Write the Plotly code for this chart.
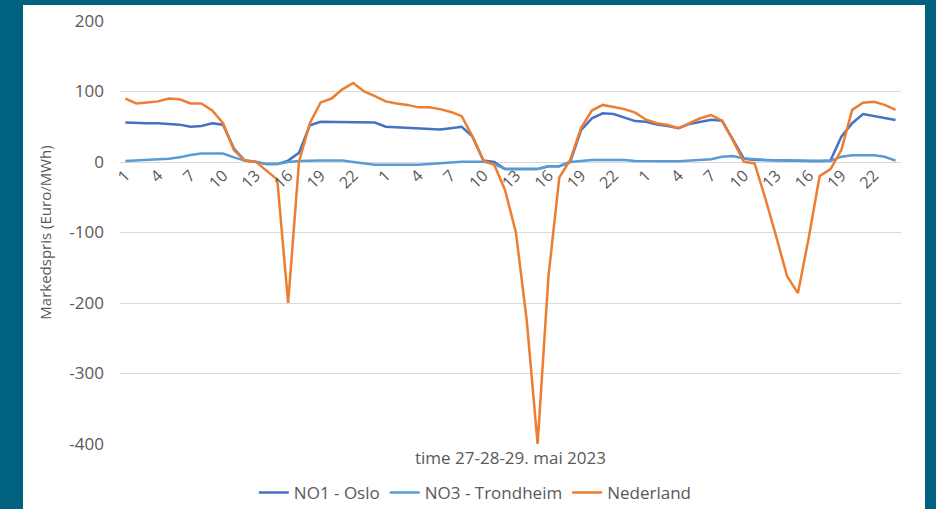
import plotly.graph_objects as go

# 72 hours over three days (27-28-29 May 2023)
hour_index = list(range(1, 73))
tick_positions = [1, 4, 7, 10, 13, 16, 19, 22,
                  25, 28, 31, 34, 37, 40, 43, 46,
                  49, 52, 55, 58, 61, 64, 67, 70]
tick_labels = ["1", "4", "7", "10", "13", "16", "19", "22"] * 3

y_ticks = [200, 100, 0, -100, -200, -300, -400]
y_tick_labels = ["200", "100", "0", "-100", "-200", "-300", "-400"]

oslo = [
    56, 55, 55, 55, 54, 53, 50, 51, 55, 53, 19, 2,
    0.5, -3, -3, 2, 13, 52, 57, 57, 56, 56, 56, 56,
    50, 49, 48, 47.5, 47, 46, 48, 50, 36, 2, 0, -10,
    -10, -10, -10, -6, -6, 0, 45, 62, 69, 68, 63, 58,
    57, 53, 51, 48, 54, 57, 60, 58.5, 31, 5, 3, 2.5,
    2, 1.5, 1.5, 1.4, 1.4, 2, 36, 55, 68, 65, 63, 59.5,
]

trondheim = [
    1.4, 2, 2.5, 3, 4.5, 6.6, 10, 12, 12, 12, 6.6, 2,
    0, -3, -3, 0, 1.4, 2, 2, 2, 2, 0, -2.5, -4,
    -4, -4, -5, -4, -3, -2, 0, 0.5, 0.5, 0.5, -3, -10,
    -10, -10, -10, -6, -6, 0, 2, 3, 3, 3, 3, 1.4,
    1, 1, 1, 1, 2, 2, 4, 7.5, 8.5, 5, 3.8, 3,
    2.5, 2, 1.5, 1.4, 1.4, 1.4, 7.5, 9.5, 10, 9.5, 7.5, 2,
]

nederland = [
    90, 83, 84.5, 86, 90, 89, 83, 83, 73, 55, 17, 2,
    0.5, -12, -25, -200, 0, 55, 84.5, 90, 103, 112, 100, 93.5,
    86, 83, 81, 77.5, 77.5, 75, 71, 65, 36, 2, -4, -40,
    -100, -225, -400, -162, -22, 3, 48, 73, 81, 78, 75, 70,
    60, 55, 52.5, 48, 55, 62, 66.5, 58.5, 31, 0.5, -2, -52,
    -106, -162, -186, -107, -20, -10, 17, 74, 84, 85.5, 81, 74,
]

TEXT_COLOR = "#595959"
GRID_COLOR = "#d9d9d9"
FONT = "Open Sans"

fig = go.Figure()

fig.add_trace(go.Scatter(x=hour_index, y=oslo, mode="lines", name="NO1 - Oslo",
                         line=dict(color="#4472C4", width=2.5)))
fig.add_trace(go.Scatter(x=hour_index, y=trondheim, mode="lines", name="NO3 - Trondheim",
                         line=dict(color="#5B9BD5", width=2.5)))
fig.add_trace(go.Scatter(x=hour_index, y=nederland, mode="lines", name="Nederland",
                         line=dict(color="#ED7D31", width=2.5)))

# white chart panel on the teal slide background
fig.add_shape(type="rect", xref="paper", yref="paper",
              x0=-0.1242, x1=1.0307, y0=-0.2, y1=1.0378,
              fillcolor="white", line=dict(width=0), layer="below")

fig.add_annotation(text="time 27-28-29. mai 2023", xref="paper", yref="paper",
                   x=0.5, y=-0.033, xanchor="center", yanchor="middle", showarrow=False,
                   font=dict(family=FONT, size=17, color=TEXT_COLOR))

fig.update_layout(
    width=936,
    height=509,
    margin=dict(l=120, r=35, t=21, b=65, autoexpand=False),
    paper_bgcolor="#00627f",
    plot_bgcolor="white",
    font=dict(family=FONT, size=17, color=TEXT_COLOR),
    legend=dict(orientation="h", x=0.455, xanchor="center", y=-0.116, yanchor="middle",
                font=dict(size=17, color=TEXT_COLOR), bgcolor="rgba(0,0,0,0)"),
    xaxis=dict(
        range=[0.5, 72.5],
        tickvals=tick_positions,
        ticktext=tick_labels,
        tickangle=-45,
        anchor="free",
        position=400 / 600,
        automargin=False,
        showgrid=False,
        zeroline=False,
        showline=False,
        ticks="",
        tickfont=dict(size=16, color=TEXT_COLOR),
    ),
    yaxis=dict(
        range=[-400, 200],
        tickvals=y_ticks,
        ticktext=y_tick_labels,
        automargin=False,
        gridcolor=GRID_COLOR,
        zerolinecolor=GRID_COLOR,
        zerolinewidth=1,
        ticks="",
        ticklabelstandoff=15,
        tickfont=dict(size=17, color=TEXT_COLOR),
        title=dict(text="Markedspris (Euro/MWh)", standoff=14,
                   font=dict(size=15, color=TEXT_COLOR)),
    ),
)

# drop the browser's default body margin so the figure fills the window
fig.write_html(
    "out.html",
    config={"displayModeBar": False},
    post_script="document.body.style.margin = '0';",
)
